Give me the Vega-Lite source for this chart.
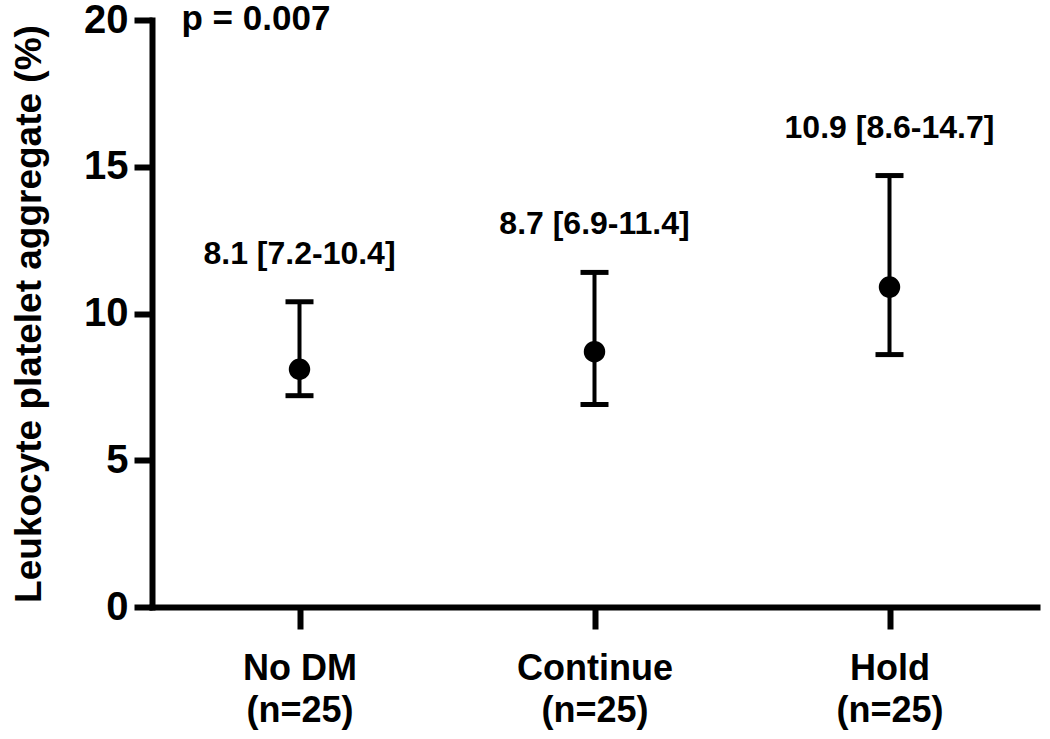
{
  "$schema": "https://vega.github.io/schema/vega-lite/v6.json",
  "width": 885,
  "height": 587,
  "autosize": "none",
  "padding": {"left": 152, "top": 20, "right": 13, "bottom": 132},
  "background": "white",
  "config": {
    "view": {"stroke": null},
    "font": "Liberation Sans",
    "axis": {"grid": false, "domainColor": "black", "tickColor": "black", "labelColor": "black", "titleColor": "black"}
  },
  "data": {
    "values": [
      {"group": "No DM|(n=25)", "median": 8.1, "lo": 7.2, "hi": 10.4, "label": "8.1 [7.2-10.4]"},
      {"group": "Continue|(n=25)", "median": 8.7, "lo": 6.9, "hi": 11.4, "label": "8.7 [6.9-11.4]"},
      {"group": "Hold|(n=25)", "median": 10.9, "lo": 8.6, "hi": 14.7, "label": "10.9 [8.6-14.7]"}
    ]
  },
  "encoding": {
    "x": {
      "field": "group",
      "type": "nominal",
      "sort": null,
      "scale": {"type": "point", "padding": 0.5},
      "axis": {
        "title": null,
        "labelAngle": 0,
        "labelExpr": "split(datum.label, '|')",
        "labelFont": "Liberation Sans",
        "labelFontWeight": "bold",
        "labelFontSize": 36,
        "labelLineHeight": 42,
        "labelPadding": 22,
        "domainWidth": 6,
        "domainCap": "square",
        "tickWidth": 6,
        "tickSize": 22
      }
    }
  },
  "layer": [
    {
      "mark": {"type": "rule", "color": "black", "strokeWidth": 4},
      "encoding": {
        "y": {
          "field": "lo",
          "type": "quantitative",
          "scale": {"domain": [0, 20], "nice": false, "zero": true},
          "axis": {
            "title": "Leukocyte platelet aggregate (%)",
            "titleFont": "Liberation Sans",
            "titleFontWeight": "bold",
            "titleFontSize": 37,
            "titlePadding": 35,
            "values": [0, 5, 10, 15, 20],
            "labelFont": "Liberation Sans",
            "labelFontWeight": "bold",
            "labelFontSize": 40,
            "labelPadding": 6,
            "domainWidth": 6,
            "domainCap": "square",
            "tickWidth": 6,
            "tickSize": 18
          }
        },
        "y2": {"field": "hi"}
      }
    },
    {
      "mark": {"type": "tick", "color": "black", "size": 28, "thickness": 5, "opacity": 1, "orient": "horizontal"},
      "encoding": {"y": {"field": "lo", "type": "quantitative"}}
    },
    {
      "mark": {"type": "tick", "color": "black", "size": 28, "thickness": 5, "opacity": 1, "orient": "horizontal"},
      "encoding": {"y": {"field": "hi", "type": "quantitative"}}
    },
    {
      "mark": {"type": "point", "filled": true, "color": "black", "size": 460, "opacity": 1, "shape": "circle"},
      "encoding": {"y": {"field": "median", "type": "quantitative"}}
    },
    {
      "mark": {"type": "text", "color": "black", "font": "Liberation Sans", "fontWeight": "bold", "fontSize": 32, "baseline": "middle", "align": "center", "dy": -48},
      "encoding": {
        "y": {"field": "hi", "type": "quantitative"},
        "text": {"field": "label"}
      }
    },
    {
      "data": {"values": [{"ptext": "p = 0.007"}]},
      "mark": {"type": "text", "color": "black", "font": "Liberation Sans", "fontWeight": "bold", "fontSize": 35, "baseline": "middle", "align": "left", "dx": -118, "dy": -1},
      "encoding": {
        "x": {"datum": "No DM|(n=25)"},
        "y": {"datum": 20},
        "text": {"field": "ptext"}
      }
    }
  ]
}
